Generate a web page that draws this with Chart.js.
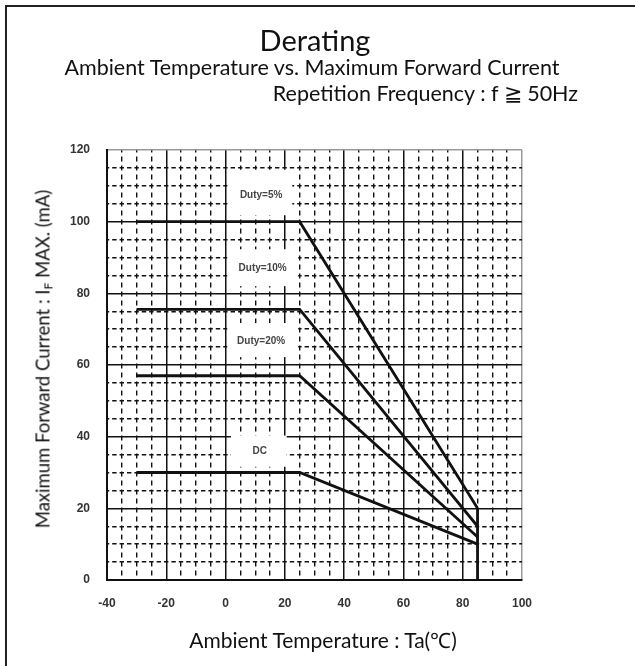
<!DOCTYPE html>
<html>
<head>
<meta charset="utf-8">
<script src="https://cdn.jsdelivr.net/npm/chart.js@4.4.1/dist/chart.umd.min.js"></script>
<style>
  html, body { margin: 0; padding: 0; background: #fff; }
  body { width: 635px; height: 666px; position: relative; overflow: hidden; font-family: Lato, "Open Sans", sans-serif; color: #111; }
  #frame { position: absolute; left: 5px; top: 5px; width: 700px; height: 700px; border: 2px solid #222; box-sizing: border-box; }
  canvas { position: absolute; left: 0; top: 0; }
  .txt { position: absolute; white-space: nowrap; line-height: 1; }
  #t1 { left: 0; width: 630px; top: 25px; text-align: center; font-size: 29px; }
  #t2 { left: 0; width: 624px; top: 56.5px; text-align: center; font-size: 21.5px; }
  #t3 { right: 57px; top: 82.5px; font-size: 21.5px; }
  #xt { left: 0; width: 646px; top: 629px; text-align: center; font-size: 21px; }
  #yt { left: 44px; top: 359px; font-size: 18.5px; transform: translate(-50%, -50%) rotate(-90deg); }
  #yt sub { font-size: 12px; vertical-align: -3px; }
</style>
</head>
<body>
<div id="frame"></div>
<canvas id="derating" width="635" height="666"></canvas>
<div class="txt" id="t1">Derating</div>
<div class="txt" id="t2">Ambient Temperature vs. Maximum Forward Current</div>
<div class="txt" id="t3">Repetition Frequency : f ≧ 50Hz</div>
<div class="txt" id="xt">Ambient Temperature : Ta(℃)</div>
<div class="txt" id="yt">Maximum Forward Current : I<sub>F</sub> MAX. (mA)</div>
<script>
// 周囲温度 (℃) と各条件の最大順電流 (mA)
const tempC = [-30, 25, 85];
const duty5 = [100, 100, 20];
const duty10 = [75.5, 75.5, 15];
const duty20 = [57, 57, 12];
const dcCurrent = [30, 30, 10];
// 85℃ の縦線
const cutoffTemp = [85, 85];
const cutoffCurrent = [20, 0];

// 曲線ラベル（データ座標）
const curveLabels = ['Duty=5%', 'Duty=10%', 'Duty=20%', 'DC'];
const labelTemp = [12, 12.5, 12, 11.5];
const labelCurrent = [107.5, 87, 66.5, 36];
// ラベル背景の白抜き範囲 [x0, x1, y0, y1]
const labelBoxes = [
    [0.7, 22.5, 101.8, 114.5],
    [0.6, 24.5, 82, 92.3],
    [0.6, 24.5, 62.2, 71.7],
    [1.8, 20.6, 31.6, 40.3]
];

function pts(xs, ys) {
    return xs.map((x, i) => ({ x: x, y: ys[i] }));
}

const lineStyle = { borderColor: '#111', borderWidth: 2.8, pointRadius: 0, fill: false, tension: 0 };

// ラベルと白抜きを描くプラグイン
const labelPlugin = {
    id: 'curveLabels',
    beforeDatasetsDraw(chart) {
        const { ctx, scales: { x, y } } = chart;
        ctx.save();
        ctx.fillStyle = '#fff';
        labelBoxes.forEach(b => {
            const l = x.getPixelForValue(b[0]), r = x.getPixelForValue(b[1]);
            const t = y.getPixelForValue(b[3]), bt = y.getPixelForValue(b[2]);
            ctx.fillRect(l, t, r - l, bt - t);
        });
        ctx.fillStyle = '#444';
        ctx.font = 'bold 10px "Liberation Sans Narrow", "Liberation Sans", sans-serif';
        ctx.textAlign = 'center';
        ctx.textBaseline = 'middle';
        curveLabels.forEach((txt, i) => {
            ctx.fillText(txt, x.getPixelForValue(labelTemp[i]), y.getPixelForValue(labelCurrent[i]));
        });
        ctx.restore();
    }
};

const tickFont = { family: '"Liberation Sans Narrow", "Liberation Sans", sans-serif', size: 12, weight: 'bold' };
const minorColor = c => c.tick && c.tick.value % 20 === 0 ? 'rgba(0,0,0,0)' : '#111';

new Chart(document.getElementById('derating').getContext('2d'), {
    type: 'line',
    data: {
        datasets: [
            { ...lineStyle, data: pts(tempC, duty5) },
            { ...lineStyle, data: pts(tempC, duty10) },
            { ...lineStyle, data: pts(tempC, duty20) },
            { ...lineStyle, data: pts(tempC, dcCurrent) },
            { ...lineStyle, data: pts(cutoffTemp, cutoffCurrent) }
        ]
    },
    options: {
        responsive: false,
        animation: false,
        layout: { padding: { left: 40, right: 113, top: 150, bottom: 46 } },
        plugins: { legend: { display: false }, tooltip: { enabled: false } },
        scales: {
            x: {
                type: 'linear', min: -40, max: 100,
                ticks: { stepSize: 20, padding: 16, color: '#333', font: tickFont, autoSkip: false, maxRotation: 0 },
                grid: { color: c => c.tick && c.tick.value === 100 ? '#999' : '#111', lineWidth: 1.5, drawTicks: false },
                border: { color: '#111', width: 2 },
                afterFit: s => { s.height = 40; }
            },
            x2: {
                type: 'linear', position: 'bottom', min: -40, max: 100,
                ticks: { display: false, stepSize: 5 },
                grid: { drawTicks: false, lineWidth: 1.4, color: minorColor },
                border: { display: false, dash: [2.6, 3.8, 2.6, 0] }
            },
            y: {
                type: 'linear', min: 0, max: 120,
                ticks: { stepSize: 20, padding: 17, color: '#333', font: tickFont },
                grid: { color: c => c.tick && c.tick.value === 120 ? '#999' : '#111', lineWidth: 1.5, drawTicks: false },
                border: { color: '#111', width: 2 },
                afterFit: s => { s.width = 67; }
            },
            y2: {
                type: 'linear', position: 'left', min: 0, max: 120,
                ticks: { display: false, stepSize: 5 },
                grid: { drawTicks: false, lineWidth: 1.4, color: minorColor },
                border: { display: false, dash: [2.2, 3, 2.2, 0] }
            }
        }
    },
    plugins: [labelPlugin]
});
</script>
</body>
</html>
